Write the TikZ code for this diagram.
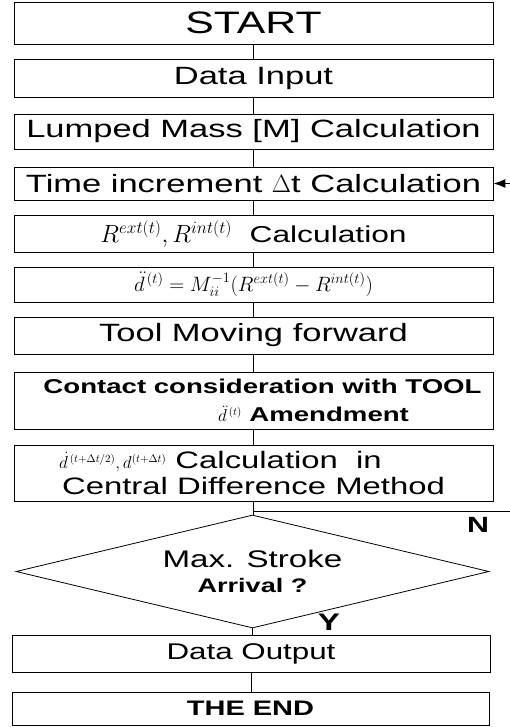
\documentclass[tikz,border=0pt]{standalone}
\usepackage{amsmath}
\usepackage{fontspec}
\setmainfont{Liberation Sans}[FakeStretch=1.38]
\usetikzlibrary{shapes.geometric,arrows.meta}

\newcommand{\smallmath}[1]{{\fontsize{16}{18}\selectfont$#1$}}

\begin{document}
\begin{tikzpicture}[x=1pt, y=-1pt, line cap=round,
  box/.style={draw, line width=0.8pt, minimum width=479pt, inner sep=0pt,
    align=center, font=\fontsize{25}{30}\selectfont},
  link/.style={line width=0.9pt}]
  \useasboundingbox (0,0) rectangle (509,727);
  % ---------- 1. start and input ----------
  \node[box, minimum height=42pt, font=\fontsize{31}{34}\selectfont] (start) at (253.5,23) {START};
  \node[box, minimum height=38pt] (input) at (253.5,78) {Data Input};
  % ---------- 2. mass and time step ----------
  \node[box, minimum height=35pt] (mass) at (253.5,131.5) {Lumped Mass [M] Calculation};
  \node[box, minimum height=33pt] (dt) at (253.5,183.5) {Time increment $\Delta$t Calculation};
  % ---------- 3. forces and acceleration ----------
  \node[box, minimum height=37pt, font=\fontsize{23}{28}\selectfont] (force) at (253.5,233.5)
    {$R^{ext(t)},R^{int(t)}$\ \ Calculation};
  \node[box, minimum height=35pt, font=\fontsize{22.5}{26}\selectfont] (accel) at (253.5,284.5)
    {$\ddot{d}\mkern2mu{}^{(t)} = M_{ii}^{-1}(R^{ext(t)} - R^{int(t)})$};
  % ---------- 4. tool and contact ----------
  \node[box, minimum height=37pt] (tool) at (253.5,335.5) {Tool Moving forward};
  \node[box, minimum height=57pt, font=\fontsize{20}{28}\selectfont\bfseries] (contact) at (253.5,400.5)
    {\hspace*{18pt}Contact consideration with TOOL\\ \hspace*{120pt}\smallmath{\ddot{d}\mkern2mu{}^{(t)}} Amendment};
  % ---------- 5. central difference ----------
  \node[box, minimum height=56pt, font=\fontsize{23.8}{26}\selectfont] (cdm) at (253.5,473)
    {\smallmath{\dot{d}\mkern2mu{}^{(t+\Delta t/2)},d^{(t+\Delta t)}} Calculation\ \ in\hspace*{66pt}\\ Central Difference Method};
  % ---------- 6. decision ----------
  \node[draw, diamond, aspect=4.2, minimum width=473pt, minimum height=113pt, inner sep=0pt,
    line width=0.8pt, align=center, font=\fontsize{24}{25}\selectfont] (stroke) at (252.5,571.5)
    {Max. Stroke\\ {\fontsize{19.6}{24}\selectfont\bfseries Arrival ?}};
  \node[font=\fontsize{22}{22}\selectfont\bfseries] (nlab) at (478,525) {N};
  \node[font=\fontsize{24}{24}\selectfont\bfseries] (ylab) at (329,622) {Y};
  % ---------- 7. output and end ----------
  \node[box, minimum width=478pt, minimum height=37pt, font=\fontsize{22.7}{26}\selectfont] (output) at (251,653.5) {Data Output};
  \node[box, minimum width=477pt, minimum height=33pt, font=\fontsize{21}{24}\selectfont\bfseries] (theend) at (250.5,708.5) {THE END};
  % ---------- connectors ----------
  \draw[link] (start) -- (input);
  \draw[link] (input) -- (mass);
  \draw[link] (mass) -- (dt);
  \draw[link] (dt) -- (force);
  \draw[link] (force) -- (accel);
  \draw[link] (accel) -- (tool);
  \draw[link] (tool) -- (contact);
  \draw[link] (contact) -- (cdm);
  \draw[link] (cdm.south) -- (cdm.south |- stroke.north);
  \draw[link] (stroke.south) -- (stroke.south |- output.north);
  \draw[link] (output.south) -- (output.south |- theend.north);
  % ---------- loop back (N) ----------
  \coordinate (loopR) at (514,511);
  \draw[link, -{Latex[length=12pt,width=9pt]}] (cdm.south |- loopR) -- (loopR)
    -- (loopR |- dt.east) -- (dt.east);
\end{tikzpicture}
\end{document}
